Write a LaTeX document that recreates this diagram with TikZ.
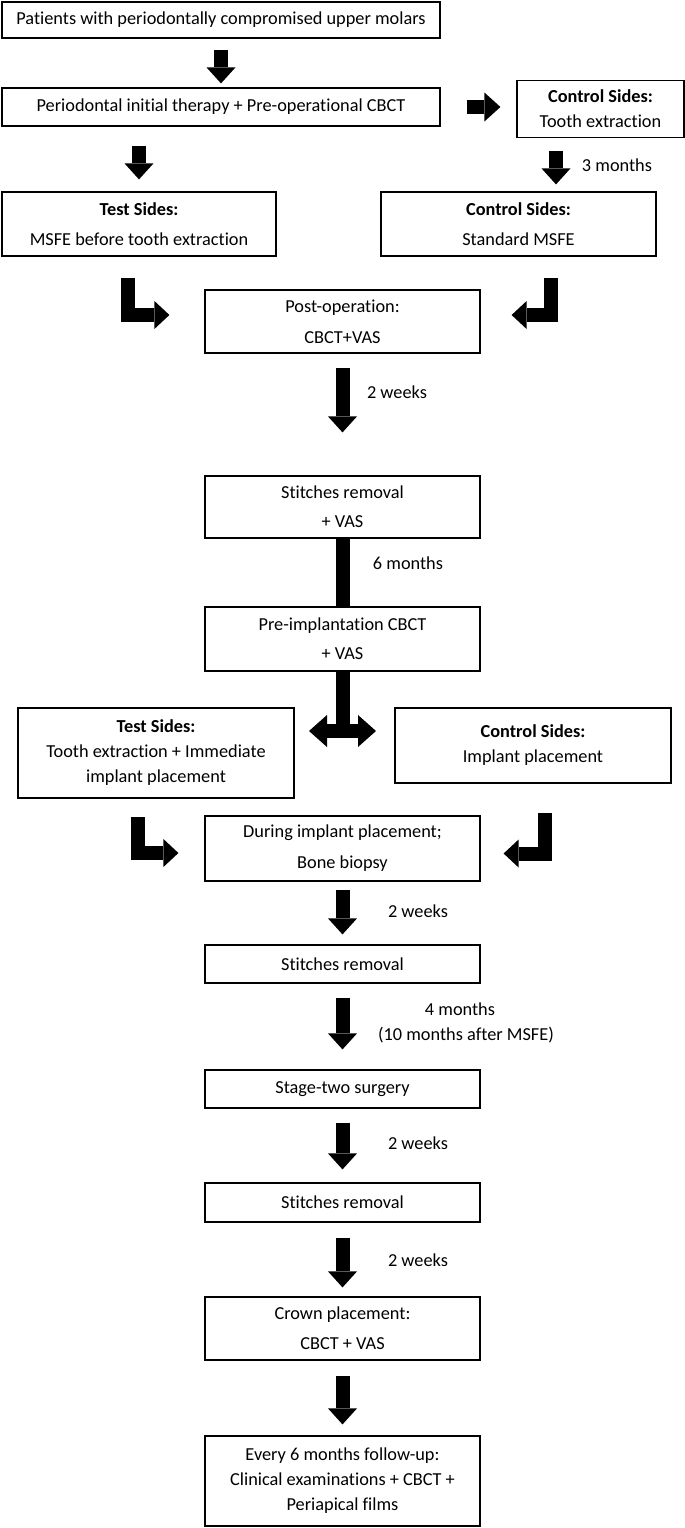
\documentclass[tikz,border=0pt]{standalone}
\usepackage{fontspec}
\setmainfont{Carlito}[Ligatures={NoCommon}]
\usetikzlibrary{arrows.meta, positioning}
\tikzstyle{block}=[draw,fill=white,rectangle,line width=1.2pt,inner sep=0pt,align=center]
\tikzstyle{mid}=[block,minimum width=275pt]
\tikzstyle{every node}=[font=\fontsize{18.3}{25}\selectfont]
\tikzstyle{fat}=[line width=14pt,-{Triangle[width=29pt,length=16pt,line width=0pt]}]
\tikzstyle{bent}=[line width=14pt,line join=miter,-{Triangle[width=28pt,length=15pt,line width=0pt]}]
\tikzstyle{twin}=[line width=14pt,{Triangle[width=32pt,length=18pt,line width=0pt]}-{Triangle[width=32pt,length=18pt,line width=0pt]}]
\tikzstyle{bar}=[line width=14pt]

\begin{document}
\begin{tikzpicture}[x=1pt,y=-1pt]
  \useasboundingbox (0,0) rectangle (685,1528);
  % boxes
  \node[block,minimum width=438pt,minimum height=36pt] (pat) at (221,20) {Patients with periodontally compromised upper molars};
  \node[block,minimum width=438pt,minimum height=38pt] (init) at (221,107) {Periodontal initial therapy + Pre-operational CBCT};
  \node[block,minimum width=167pt,minimum height=57pt] (ctrlext) at (600.5,109) {\textbf{Control Sides:}\\Tooth extraction};
  \node[block,minimum width=274pt,minimum height=64pt] (testmsfe) at (139,224) {\textbf{Test Sides:}\\[5pt]MSFE before tooth extraction};
  \node[block,minimum width=275pt,minimum height=64pt] (ctrlmsfe) at (518.5,224) {\textbf{Control Sides:}\\[5pt]Standard MSFE};
  \node[mid,minimum height=63pt] (postop) at (342.5,321.5) {Post-operation:\\[6pt]CBCT+VAS};
  \node[mid,minimum height=62pt] (stitcha) at (342.5,507) {Stitches removal\\[4pt]+ VAS};
  \node[mid,minimum height=64pt] (preimp) at (342.5,639) {Pre-implantation CBCT\\[4pt]+ VAS};
  \node[block,minimum width=276pt,minimum height=90pt] (testimp) at (156,753) {\textbf{Test Sides:}\\Tooth extraction + Immediate\\implant placement};
  \node[block,minimum width=276pt,minimum height=75pt] (ctrlimp) at (533,745.5) {\textbf{Control Sides:}\\Implant placement};
  \node[mid,minimum height=65pt] (during) at (342.5,848.5) {During implant placement;\\[6pt]Bone biopsy};
  \node[mid,minimum height=38pt] (stitchb) at (342.5,964) {Stitches removal};
  \node[mid,minimum height=38pt] (stage) at (342.5,1089) {Stage-two surgery};
  \node[mid,minimum height=39pt] (stitchc) at (342.5,1202.5) {Stitches removal};
  \node[mid,minimum height=63pt] (crown) at (342.5,1328.5) {Crown placement:\\[5pt]CBCT + VAS};
  \node[mid,minimum height=90pt] (follow) at (342.5,1481) {Every 6 months follow-up:\\Clinical examinations + CBCT +\\Periapical films};

  % time labels
  \node (m3) at (617,165) {3 months};
  \node (wk1) at (397,392) {2 weeks};
  \node (m6) at (408,563) {6 months};
  \node (wk2) at (418,911) {2 weeks};
  \node (m4) at (460,1009) {4 months};
  \node (m10) at (466,1035) {(10 months after MSFE)};
  \node (wk3) at (418,1143) {2 weeks};
  \node (wk4) at (418,1260) {2 weeks};

  % free ends of the bent arrows and the split
  \coordinate (tsdrop) at (127.5,278);
  \coordinate (csdrop) at (551,278);
  \coordinate (tidrop) at (137.5,817);
  \coordinate (cidrop) at (544.5,813);
  \coordinate (splitL) at (309,731);
  \coordinate (splitR) at (376,731);

  % arrows
  \draw[fat,shorten <=11pt,shorten >=4pt] (pat.south) -- (init.north);
  \draw[fat,shorten <=26pt,shorten >=16pt] (init.east) -- (init.east -| ctrlext.west);
  \draw[fat,shorten <=19pt,shorten >=12pt] (init.south -| testmsfe.north) -- (testmsfe.north);
  \draw[fat,shorten <=13pt,shorten >=7pt] ([xshift=-44.5pt]ctrlext.south) -- ([xshift=-44.5pt]ctrlext.south |- ctrlmsfe.north);
  \draw[bent,shorten >=35pt] (tsdrop) |- ([yshift=6.5pt]postop.west);
  \draw[bent,shorten >=31pt] (csdrop) |- ([yshift=6.5pt]postop.east);
  \draw[fat,shorten <=14pt,shorten >=43pt] (postop.south) -- (stitcha.north);
  \draw[bar] (stitcha.south) -- (preimp.north);
  \draw[bar] (preimp.south) -- (preimp.south |- splitL);
  \draw[twin] (splitL) -- (splitR);
  \draw[bent,shorten >=26pt] (tidrop) |- ([yshift=-4.5pt]during.west);
  \draw[bent,shorten >=23pt] (cidrop) |- ([yshift=-5pt]during.east);
  \draw[fat,shorten <=8pt,shorten >=10pt] (during.south) -- (stitchb.north);
  \draw[fat,shorten <=14pt,shorten >=20pt] (stitchb.south) -- (stage.north);
  \draw[fat,shorten <=14pt,shorten >=13pt] (stage.south) -- (stitchc.north);
  \draw[fat,shorten <=15pt,shorten >=9pt] (stitchc.south) -- (crown.north);
  \draw[fat,shorten <=15pt,shorten >=11pt] (crown.south) -- (follow.north);
\end{tikzpicture}
\end{document}
